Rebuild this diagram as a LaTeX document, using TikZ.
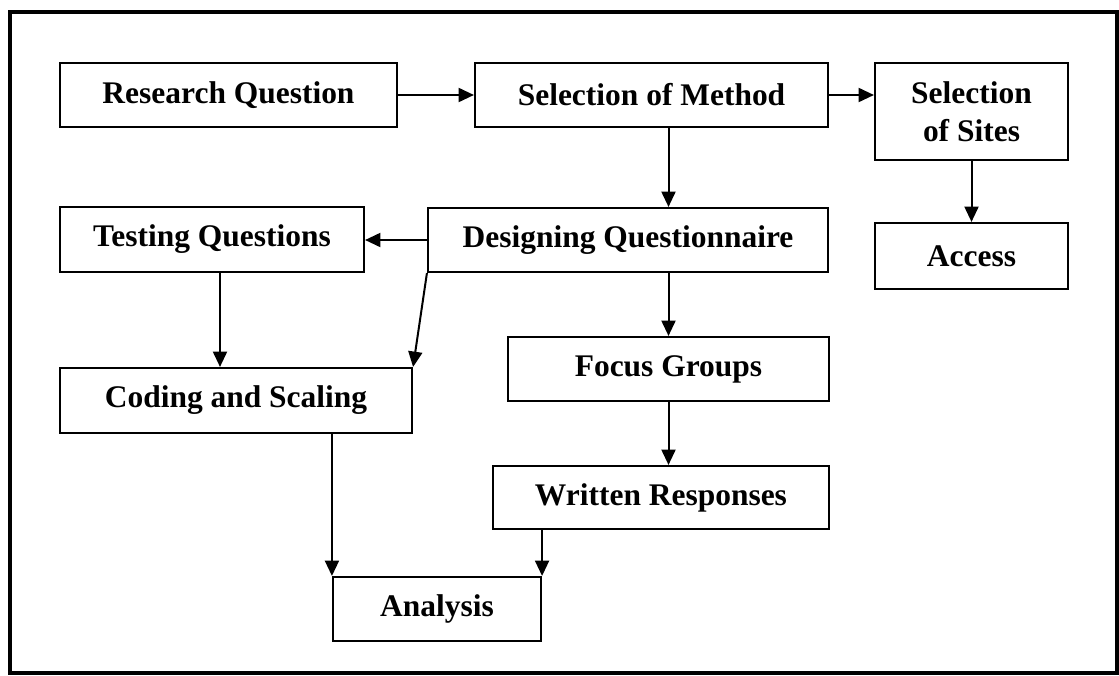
\documentclass[tikz,border=0pt]{standalone}
\usepackage{fontspec}
\setmainfont{Liberation Serif}
\usetikzlibrary{arrows.meta,calc}
\begin{document}
\begin{tikzpicture}[x=0.75pt,y=-0.75pt,
  stagebox/.style={draw, line width=1.6pt, inner sep=0pt, align=center,
    font=\fontsize{23.6pt}{28.5pt}\selectfont\bfseries},
  flow/.style={line width=1.5pt, -{Triangle[length=11.5pt,width=10.5pt]}}]
\useasboundingbox (0,0) rectangle (1119,675);
% outer frame
\draw[line width=2.8pt] (10,12) rectangle (1117,673);
% stages
\node[stagebox, minimum width=252.75pt, minimum height=48pt]    (rq) at (228.5,95)  {Research Question};
\node[stagebox, minimum width=264.75pt, minimum height=48pt]    (sm) at (651.5,95)  {Selection of Method};
\node[stagebox, minimum width=144.75pt, minimum height=72.75pt] (ss) at (971.5,111.5) {Selection\\of Sites};
\node[stagebox, minimum width=144.75pt, minimum height=49.5pt]  (ac) at (971.5,256) {Access};
\node[stagebox, minimum width=300pt,    minimum height=48pt]    (dq) at (628,240)   {Designing Questionnaire};
\node[stagebox, minimum width=228pt,    minimum height=48.75pt] (tq) at (212,239.5) {Testing Questions};
\node[stagebox, minimum width=264pt,    minimum height=48.75pt] (cs) at (236,400.5) {Coding and Scaling};
\node[stagebox, minimum width=240.75pt, minimum height=48pt]    (fg) at (668.5,369) {Focus Groups};
\node[stagebox, minimum width=252pt,    minimum height=47.25pt] (wr) at (661,497.5) {Written Responses};
\node[stagebox, minimum width=156pt,    minimum height=48pt]    (an) at (437,609)   {Analysis};
% connectors
\draw[flow] (rq.east) -- (sm.west);
\draw[flow] (sm.east) -- (sm.east -| ss.west);
\draw[flow] (ss.south) -- (ac.north);
\draw[flow] (fg.north |- sm.south) -- (fg.north |- dq.north);
\draw[flow] (dq.west) -- (dq.west -| tq.east);
\draw[flow] (dq.south west) -- (cs.north east);
\draw[flow] ([xshift=6pt]tq.south) -- ([xshift=6pt]tq.south |- cs.north);
\draw[flow] (fg.north |- dq.south) -- (fg.north);
\draw[flow] (fg.south) -- (fg.south |- wr.north);
\draw[flow] (an.north west |- cs.south) -- (an.north west);
\draw[flow] (an.north east |- wr.south) -- (an.north east);
\end{tikzpicture}
\end{document}
